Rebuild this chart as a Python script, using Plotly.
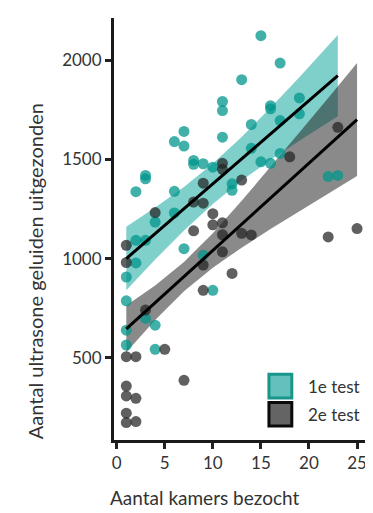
import plotly.graph_objects as go

# ---- data ----
test1_x = [1, 1, 1, 1, 2, 2, 2, 3, 3, 3, 3, 4, 4, 4, 6, 6, 6, 7, 7, 7, 8, 8, 9, 9,
           10, 10, 11, 11, 11, 12, 12, 13, 14, 14, 15, 15, 16, 16, 16, 17, 17, 17,
           19, 19, 22, 23]
test1_y = [907, 787, 639, 564, 1092, 978, 1337, 1092, 698, 1419, 1402, 664, 542, 1184,
           1339, 1230, 1590, 1641, 1567, 1050, 1495, 1475, 1478, 1017,
           1461, 840, 1792, 1746, 1612, 1377, 1344, 1902, 1676, 1556, 2124, 1488,
           1771, 1755, 1480, 1986, 1696, 1530, 1810, 1730, 1414, 1419]

test2_x = [1, 1, 1, 1, 1, 1, 1, 2, 2, 2, 3, 4, 5, 7, 8, 8, 9, 9, 9, 9, 10, 10,
           11, 11, 11, 11, 11, 12, 13, 13, 14, 18, 22, 23, 25]
test2_y = [1067, 980, 505, 357, 307, 220, 173, 505, 295, 178, 740, 1232, 542, 386,
           1285, 1140, 1380, 1279, 967, 840, 1226, 1170, 1480, 1450, 1180, 1120, 1034,
           925, 1396, 1127, 1119, 1513, 1109, 1662, 1151]

fit1_x = [1, 4, 7, 10, 13, 16, 19, 22, 23]
fit1_y = [1000, 1126, 1251, 1377, 1503, 1629, 1754, 1880, 1922]
fit1_lo = [840, 995, 1141, 1275, 1393, 1498, 1594, 1687, 1717]
fit1_hi = [1160, 1257, 1361, 1479, 1613, 1760, 1914, 2073, 2127]

fit2_x = [1, 4, 7, 10, 13, 16, 19, 22, 25]
fit2_y = [645, 777, 909, 1041, 1173, 1305, 1437, 1569, 1701]
fit2_lo = [527, 690, 835, 954, 1055, 1149, 1239, 1328, 1416]
fit2_hi = [763, 864, 983, 1128, 1291, 1461, 1635, 1810, 1986]

x_ticks = [0, 5, 10, 15, 20, 25]
y_ticks = [500, 1000, 1500, 2000]
series_names = ["1e test", "2e test"]
x_title = "Aantal kamers bezocht"
y_title = "Aantal ultrasone geluiden uitgezonden"

FONT = "Lato"
TXT = "#333333"
TEAL_BAND = "rgba(0,160,150,0.5)"
GRAY_BAND = "rgba(30,30,30,0.52)"
TEAL_PT = "rgba(0,150,140,0.75)"
GRAY_PT = "rgba(35,35,35,0.72)"

fig = go.Figure()

def band(xs, lo, hi, color):
    return go.Scatter(x=list(xs) + list(xs)[::-1], y=list(hi) + list(lo)[::-1],
                      fill="toself", fillcolor=color, line=dict(width=0),
                      mode="lines", hoverinfo="skip", showlegend=False)

fig.add_trace(band(fit1_x, fit1_lo, fit1_hi, TEAL_BAND))
fig.add_trace(band(fit2_x, fit2_lo, fit2_hi, GRAY_BAND))

fig.add_trace(go.Scatter(x=test1_x, y=test1_y, mode="markers", name=series_names[0],
                         marker=dict(size=11, color=TEAL_PT, line=dict(width=0)),
                         showlegend=False))
fig.add_trace(go.Scatter(x=test2_x, y=test2_y, mode="markers", name=series_names[1],
                         marker=dict(size=11, color=GRAY_PT, line=dict(width=0)),
                         showlegend=False))

fig.add_trace(go.Scatter(x=fit1_x, y=fit1_y, mode="lines",
                         line=dict(color="black", width=3), showlegend=False))
fig.add_trace(go.Scatter(x=fit2_x, y=fit2_y, mode="lines",
                         line=dict(color="black", width=3), showlegend=False))

# manual legend (boxes + labels)
legend_boxes = [
    dict(y0=0.0995, y1=0.156, fill="rgb(100,192,186)", border="rgb(25,150,140)"),
    dict(y0=0.033, y1=0.0889, fill="rgb(100,100,100)", border="rgb(10,10,10)"),
]
for i, b in enumerate(legend_boxes):
    fig.add_shape(type="rect", xref="paper", yref="paper", x0=0.610, x1=0.700,
                  y0=b["y0"], y1=b["y1"], fillcolor=b["fill"],
                  line=dict(color=b["border"], width=3))
    fig.add_annotation(xref="paper", yref="paper", x=0.755,
                       y=(b["y0"] + b["y1"]) / 2, text=series_names[i],
                       showarrow=False, xanchor="left", yanchor="middle",
                       font=dict(family=FONT, size=17, color=TXT))

# axis titles (positioned like the reference, not centred on the plot area)
fig.add_annotation(xref="paper", yref="paper", x=0.358, y=0, yshift=-57,
                   text=x_title, showarrow=False, xanchor="center", yanchor="middle",
                   font=dict(family=FONT, size=19, color=TXT))
fig.add_annotation(xref="paper", yref="paper", x=0, xshift=-79, y=0.40,
                   text=y_title, textangle=-90, showarrow=False,
                   xanchor="center", yanchor="middle",
                   font=dict(family=FONT, size=20, color=TXT))

axis_common = dict(showgrid=False, zeroline=False, showline=True, linewidth=3,
                   linecolor="#1a1a1a", ticks="outside", ticklen=6, tickwidth=2.5,
                   tickcolor="#222222", tickfont=dict(family=FONT, size=17, color=TXT))

# the page body adds an 8 px offset, so the figure is 8 px smaller and margins shifted
fig.update_layout(
    width=365, height=505,
    margin=dict(l=106, r=5, t=10, b=73),
    paper_bgcolor="white", plot_bgcolor="white",
    font=dict(family=FONT, color=TXT),
    showlegend=False,
    xaxis=dict(range=[-0.28, 26.14], tickvals=x_ticks, **axis_common),
    yaxis=dict(range=[85, 2213], tickvals=y_ticks, **axis_common),
)

fig.write_html("out.html")
